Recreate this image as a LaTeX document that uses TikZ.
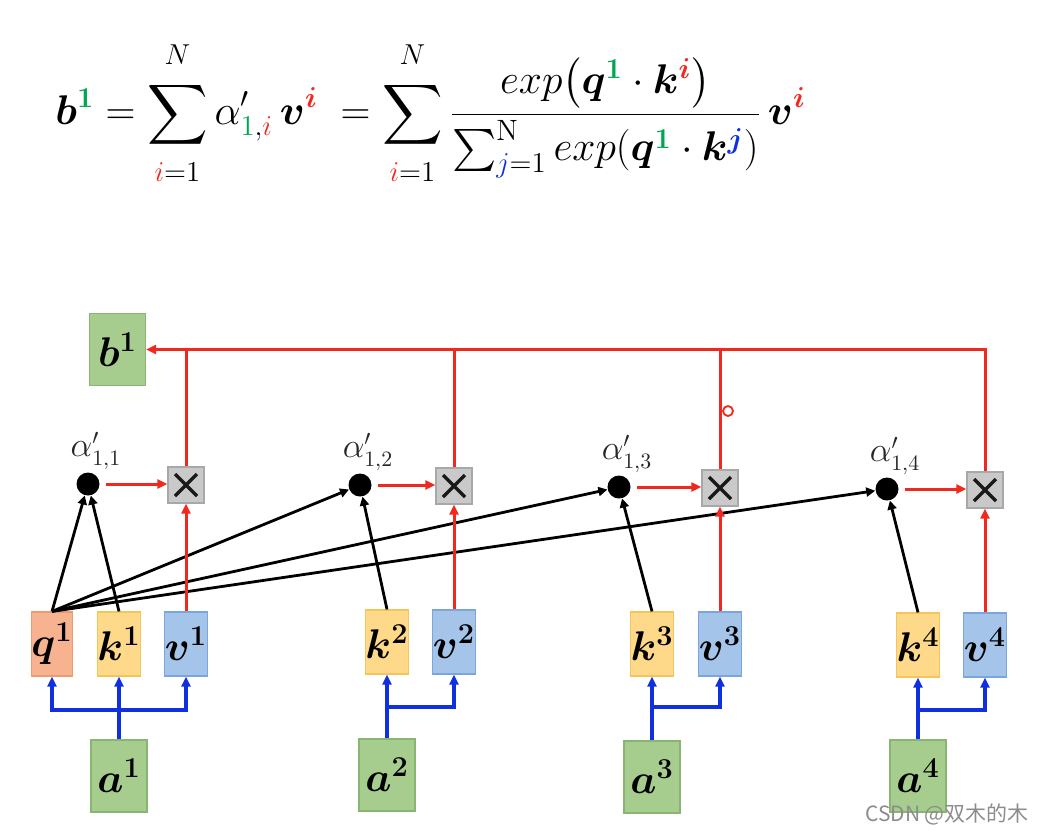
\documentclass[tikz,border=0pt]{standalone}
\usepackage{amsmath,amssymb,bm,xcolor}
\usepackage{fontspec}
\newfontfamily\cjkfont{Noto Sans CJK SC}
\usetikzlibrary{arrows.meta,positioning}
\definecolor{sgreen}{HTML}{00A651}
\definecolor{sred}{HTML}{F0281E}
\definecolor{sblue}{HTML}{1030E0}
\definecolor{qfill}{HTML}{F7B28F}
\definecolor{qline}{HTML}{EE9A70}
\definecolor{kfill}{HTML}{FFD98A}
\definecolor{kline}{HTML}{F5C55A}
\definecolor{vfill}{HTML}{A4C4EA}
\definecolor{vline}{HTML}{7BA6DC}
\definecolor{gfill}{HTML}{A6CD8E}
\definecolor{gline}{HTML}{88B572}
\definecolor{xfill}{HTML}{C9C9C9}
\definecolor{xline}{HTML}{A8A8A8}
\newcommand{\grn}[1]{\textcolor{sgreen}{#1}}
\newcommand{\redc}[1]{\textcolor{sred}{#1}}
\newcommand{\blu}[1]{\textcolor{sblue}{#1}}
\newcommand{\uplim}[1]{\raisebox{4pt}{$\scriptstyle #1$}}
\newcommand{\lowlim}[1]{\raisebox{-4pt}{$\scriptstyle #1$}}
\tikzset{
  box/.style={draw,line width=0.6pt,minimum width=17.5pt,minimum height=32pt,inner sep=0pt,font=\fontsize{19.5}{22}\selectfont},
  qbox/.style={box,fill=qfill,draw=qline},
  kbox/.style={box,fill=kfill,draw=kline},
  vbox/.style={box,fill=vfill,draw=vline},
  gbox/.style={box,fill=gfill,draw=gline,minimum width=28pt,minimum height=36pt,font=\fontsize{20}{22}\selectfont},
  mul/.style={draw=xline,fill=xfill,line width=0.6pt,minimum size=18pt,inner sep=0pt,
    path picture={\draw[line width=1.7pt,black!90]
      ([shift={(-5.5pt,-5.5pt)}]path picture bounding box.center) -- ([shift={(5.5pt,5.5pt)}]path picture bounding box.center)
      ([shift={(-5.5pt,5.5pt)}]path picture bounding box.center) -- ([shift={(5.5pt,-5.5pt)}]path picture bounding box.center);}},
  dot/.style={circle,fill=black,minimum size=11.5pt,inner sep=0pt},
  alab/.style={inner sep=0pt,text=black!85,font=\fontsize{16}{18}\selectfont},
  rar/.style={-{Triangle[length=5pt,width=4.5pt]},line width=1.5pt,draw=sred},
  rline/.style={line width=1.5pt,draw=sred},
  bar/.style={-{Triangle[length=5pt,width=4.5pt]},line width=1.6pt,draw=sblue},
  kar/.style={-{Triangle[length=4.5pt,width=4.5pt]},line width=1.4pt,draw=black},
}
\begin{document}
\begin{tikzpicture}[x=0.5pt,y=-0.5pt]
\useasboundingbox (0,0) rectangle (1044,832);
% formula
\node[anchor=west,inner sep=0pt,font=\fontsize{21}{25}\selectfont] (eq) at (55,113) {$\displaystyle
  \bm{b}^{\grn{\bm{1}}} = \sum_{\lowlim{\redc{i}=1}}^{\uplim{N}}\alpha'_{\grn{1},\redc{i}}\,\bm{v}^{\redc{\bm{i}}}
  \;= \sum_{\lowlim{\redc{i}=1}}^{\uplim{N}}\frac{exp\bigl(\bm{q}^{\grn{\bm{1}}}\cdot\bm{k}^{\redc{\bm{i}}}\bigr)}{\sum_{\blu{j}=1}^{\mathrm{N}} exp(\bm{q}^{\grn{\bm{1}}}\cdot\bm{k}^{\blu{\bm{j}}})}\,\bm{v}^{\redc{\bm{i}}}$};
% output and products
\node[gbox] (b1) at (117.5,349.5) {$\bm{b}^{\bm{1}}$};
\node[mul] (m1) at (186,485) {};
\node[mul] (m2) at (454,486) {};
\node[mul] (m3) at (720,488) {};
\node[mul] (m4) at (985,490) {};
% attention scores
\node[dot] (d1) at (88,484) {};
\node[dot] (d2) at (360,485) {};
\node[dot] (d3) at (619,487) {};
\node[dot] (d4) at (887,489) {};
\node[alab,above=1pt of d1,xshift=4pt] (l1) {$\alpha'_{1,1}$};
\node[alab,above=1pt of d2,xshift=4pt] (l2) {$\alpha'_{1,2}$};
\node[alab,above=1pt of d3,xshift=4pt] (l3) {$\alpha'_{1,3}$};
\node[alab,above=1pt of d4,xshift=4pt] (l4) {$\alpha'_{1,4}$};
% q, k, v
\node[qbox] (q1) at (52,644) {$\bm{q}^{\bm{1}}$};
\node[kbox] (k1) at (119,644) {$\bm{k}^{\bm{1}}$};
\node[vbox] (v1) at (186,644) {$\bm{v}^{\bm{1}}$};
\node[kbox] (k2) at (387,642) {$\bm{k}^{\bm{2}}$};
\node[vbox] (v2) at (454,642) {$\bm{v}^{\bm{2}}$};
\node[kbox] (k3) at (652,644) {$\bm{k}^{\bm{3}}$};
\node[vbox] (v3) at (720,644) {$\bm{v}^{\bm{3}}$};
\node[kbox] (k4) at (918,645) {$\bm{k}^{\bm{4}}$};
\node[vbox] (v4) at (985,645) {$\bm{v}^{\bm{4}}$};
% inputs
\node[gbox] (a1) at (119,776) {$\bm{a}^{\bm{1}}$};
\node[gbox] (a2) at (387,775) {$\bm{a}^{\bm{2}}$};
\node[gbox] (a3) at (652,777) {$\bm{a}^{\bm{3}}$};
\node[gbox] (a4) at (918,776) {$\bm{a}^{\bm{4}}$};
\coordinate (j1) at (119,710);
\coordinate (j2) at (387,707);
\coordinate (j3) at (652,707);
\coordinate (j4) at (918,710);
% blue: input to q,k,v
\draw[bar] (a1.north) -- (k1.south);
\draw[bar] (j1) -| (q1.south);
\draw[bar] (j1) -| (v1.south);
\draw[bar] (a2.north) -- (k2.south);
\draw[bar] (j2) -| (v2.south);
\draw[bar] (a3.north) -- (k3.south);
\draw[bar] (j3) -| (v3.south);
\draw[bar] (a4.north) -- (k4.south);
\draw[bar] (j4) -| (v4.south);
% black: q1 and k to scores
\draw[kar] (q1.north) -- (d1);
\draw[kar] (k1.north) -- (d1);
\draw[kar] (q1.north) -- (d2);
\draw[kar] (k2.north) -- (d2);
\draw[kar] (q1.north) -- (d3);
\draw[kar] (k3.north) -- (d3);
\draw[kar] (q1.north) -- (d4);
\draw[kar] (k4.north) -- (d4);
% red: weighting and sum
\draw[rar,shorten <=3pt] (d1) -- (d1 -| m1.west);
\draw[rar,shorten <=3pt] (d2) -- (d2 -| m2.west);
\draw[rar,shorten <=3pt] (d3) -- (d3 -| m3.west);
\draw[rar,shorten <=3pt] (d4) -- (d4 -| m4.west);
\draw[rar] (v1) -- (m1);
\draw[rar] (v2) -- (m2);
\draw[rar] (v3) -- (m3);
\draw[rar] (v4) -- (m4);
\draw[rar] (m4.north) |- (b1.east);
\draw[rline] (m1.north) -- (m1.north |- b1.east);
\draw[rline] (m2.north) -- (m2.north |- b1.east);
\draw[rline] (m3.north) -- (m3.north |- b1.east);
\draw[sred,line width=0.9pt] (728,411) circle (2.5pt);
\node[font=\cjkfont\fontsize{10.5}{12}\selectfont,text=black!45,inner sep=0pt] (wm) at (947,814) {CSDN @双木的木};
\end{tikzpicture}
\end{document}
